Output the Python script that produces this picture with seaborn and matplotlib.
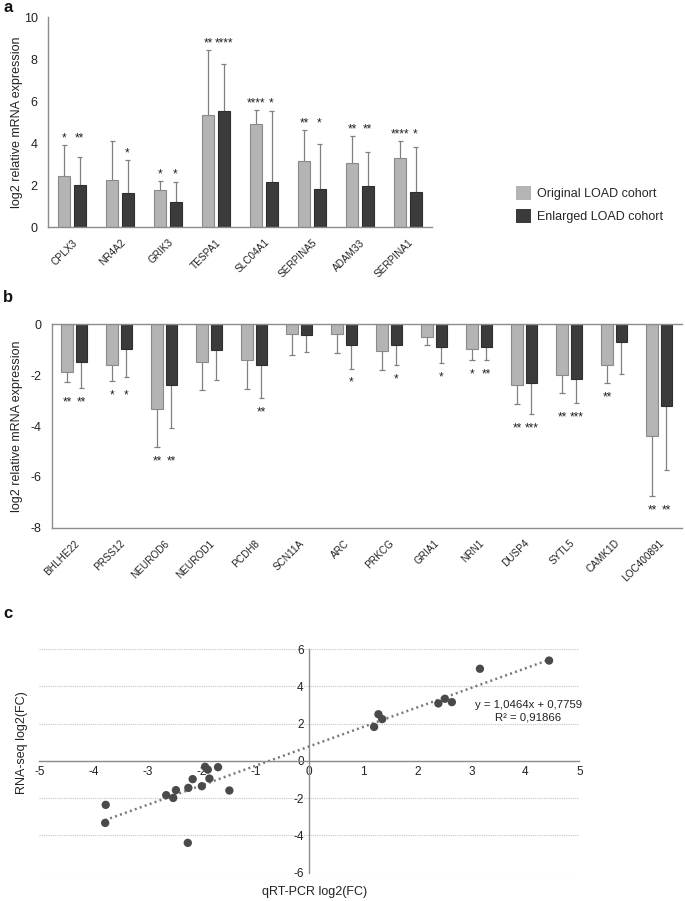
import numpy as np
import pandas as pd
import matplotlib
matplotlib.use("Agg")
import matplotlib.pyplot as plt
import seaborn as sns
from matplotlib.patches import Patch

sns.set_theme(style="white")
plt.rcParams["font.family"] = ["Liberation Sans", "DejaVu Sans"]
plt.rcParams["axes.unicode_minus"] = False

# ---------------- data ----------------
COHORTS = ["Original LOAD cohort", "Enlarged LOAD cohort"]

up_genes = ["CPLX3", "NR4A2", "GRIK3", "TESPA1", "SLC04A1", "SERPINA5", "ADAM33", "SERPINA1"]
up_orig = [2.45, 2.22, 1.78, 5.35, 4.90, 3.12, 3.03, 3.30]
up_orig_errtop = [3.90, 4.10, 2.20, 8.45, 5.58, 4.60, 4.33, 4.11]
up_enl = [2.00, 1.63, 1.17, 5.52, 2.15, 1.80, 1.94, 1.65]
up_enl_errtop = [3.33, 3.18, 2.12, 7.77, 5.53, 3.95, 3.56, 3.79]
up_orig_sig = ["*", "", "*", "**", "****", "**", "**", "****"]
up_enl_sig = ["**", "*", "*", "****", "*", "*", "**", "*"]

down_genes = ["BHLHE22", "PRSS12", "NEUROD6", "NEUROD1", "PCDH8", "SCN11A", "ARC",
              "PRKCG", "GRIA1", "NRN1", "DUSP4", "SYTL5", "CAMK1D", "LOC400891"]
down_orig = [-1.86, -1.61, -3.34, -1.48, -1.40, -0.39, -0.37, -1.04, -0.51, -0.98, -2.39, -2.01, -1.61, -4.39]
down_orig_errbot = [-2.28, -2.23, -4.84, -2.58, -2.53, -1.21, -1.14, -1.81, -0.83, -1.40, -3.15, -2.70, -2.32, -6.75]
down_enl = [-1.48, -0.98, -2.39, -1.01, -1.60, -0.43, -0.83, -0.80, -0.88, -0.89, -2.31, -2.15, -0.71, -3.20]
down_enl_errbot = [-2.49, -2.09, -4.07, -2.19, -2.90, -1.08, -1.74, -1.59, -1.53, -1.42, -3.53, -3.10, -1.94, -5.74]
down_orig_sig = ["**", "*", "**", "", "", "", "", "", "", "*", "**", "**", "**", "**"]
down_enl_sig = ["**", "*", "**", "", "**", "", "*", "*", "*", "**", "***", "***", "", "**"]

qpcr_fc = [-3.77, -3.78, -2.65, -2.52, -2.47, -2.24, -2.25, -2.16, -1.99, -1.93, -1.88,
           -1.85, -1.69, -1.48, 1.20, 1.28, 1.35, 2.39, 2.51, 2.64, 3.16, 4.44]
rnaseq_fc = [-2.36, -3.33, -1.84, -1.99, -1.57, -1.45, -4.40, -0.98, -1.36, -0.32, -0.47,
             -0.95, -0.34, -1.59, 1.82, 2.50, 2.24, 3.08, 3.33, 3.15, 4.94, 5.38]
fit_slope = 1.0464
fit_intercept = 0.7759
fit_r2 = 0.91866

# ---------------- style ----------------
LIGHT = "#b4b4b4"
DARK = "#3b3b3b"
AXC = "#8c8c8c"
ERRC = "#808080"
TXT = "#222222"

fig = plt.figure(figsize=(6.85, 9.01), dpi=100)


def style_axis(ax):
    for s in ax.spines.values():
        s.set_color(AXC)
        s.set_linewidth(1.0)
    ax.tick_params(axis="both", colors=AXC, labelcolor=TXT, length=4, width=1.0, direction="out")


def draw_bars(ax, genes, orig, enl, orig_err, enl_err, orig_sig, enl_sig, up, cap_hw):
    n = len(genes)
    df = pd.DataFrame({
        "gene": genes * 2,
        "value": orig + enl,
        "cohort": [COHORTS[0]] * n + [COHORTS[1]] * n,
    })
    sns.barplot(data=df, x="gene", y="value", hue="cohort", order=genes, hue_order=COHORTS,
                palette=[LIGHT, DARK], width=0.63, gap=0.2, errorbar=None, legend=False,
                saturation=1, ax=ax)
    bars = list(ax.patches)
    groups = [bars[:n], bars[n:2 * n]]
    edgecols = ["#8a8a8a", "#2e2e2e"]
    centers = []
    for k, grp in enumerate(groups):
        for p in grp:
            p.set_edgecolor(edgecols[k])
            p.set_linewidth(0.8)
        centers.append([p.get_x() + p.get_width() / 2 for p in grp])
    vals = [orig, enl]
    errs = [orig_err, enl_err]
    sigs = [orig_sig, enl_sig]
    for k in range(2):
        xc = np.array(centers[k])
        ax.vlines(xc, vals[k], errs[k], color=ERRC, lw=0.9, zorder=0.9)
        ax.hlines(errs[k], xc - cap_hw, xc + cap_hw, color=ERRC, lw=0.9, zorder=0.9)
    for i in range(n):
        starred = [k for k in range(2) if sigs[k][i]]
        if not starred:
            continue
        if up:
            ref = max(errs[k][i] for k in starred)
            off = 2.5
        else:
            ref = min(errs[k][i] for k in starred)
            off = -12.5
        for k in starred:
            ax.annotate(sigs[k][i], xy=(centers[k][i], ref), xytext=(0, off),
                        textcoords="offset points", ha="center", va="baseline",
                        fontsize=8.5, color=TXT)
    ax.set_xlabel("")
    ax.set_xlim(-0.5, n - 0.5)
    ax.set_xticks(range(n))
    ax.set_xticklabels(genes, rotation=45, ha="right", rotation_mode="anchor", fontsize=7.2)


# ---------------- panel a ----------------
ax_a = fig.add_axes([48 / 685, 1 - 227 / 901, 384 / 685, 210 / 901])
draw_bars(ax_a, up_genes, up_orig, up_enl, up_orig_errtop, up_enl_errtop,
          up_orig_sig, up_enl_sig, True, 0.055)
ax_a.set_ylim(0, 10)
ax_a.set_yticks(range(0, 11, 2))
style_axis(ax_a)
ax_a.spines["top"].set_visible(False)
ax_a.spines["right"].set_visible(False)
ax_a.tick_params(axis="y", labelsize=9)
ax_a.set_ylabel("log2 relative mRNA expression", fontsize=9, color=TXT)
ax_a.yaxis.set_label_coords(-0.066, 0.5)

handles = [Patch(facecolor=LIGHT, edgecolor="none"), Patch(facecolor=DARK, edgecolor="none")]
ax_a.legend(handles, COHORTS, loc="upper left", bbox_to_anchor=(516 / 685, 1 - 186 / 901),
            bbox_transform=fig.transFigure, frameon=False, fontsize=9,
            handlelength=1.2, handleheight=1.3, handletextpad=0.45, labelspacing=0.75,
            borderaxespad=0, borderpad=0)

# ---------------- panel b ----------------
ax_b = fig.add_axes([51.7 / 685, 1 - 527.7 / 901, 630 / 685, 203.4 / 901])
draw_bars(ax_b, down_genes, down_orig, down_enl, down_orig_errbot, down_enl_errbot,
          down_orig_sig, down_enl_sig, False, 0.06)
ax_b.set_ylim(-8, 0)
ax_b.set_yticks(range(-8, 1, 2))
style_axis(ax_b)
ax_b.spines["right"].set_visible(False)
ax_b.tick_params(axis="y", labelsize=9)
ax_b.set_ylabel("log2 relative mRNA expression", fontsize=9, color=TXT)
ax_b.yaxis.set_label_coords(-0.046, 0.5)

# ---------------- panel c ----------------
ax_c = fig.add_axes([39.3 / 685, 1 - 872.7 / 901, 540 / 685, 223.7 / 901])
xs = np.array([min(qpcr_fc), max(qpcr_fc)])
ax_c.plot(xs, fit_slope * xs + fit_intercept, color="#7a7a7a", lw=1.8,
          ls=(0, (0.8, 1.3)), zorder=2)
sns.scatterplot(x=qpcr_fc, y=rnaseq_fc, ax=ax_c, s=36, color="#4a4a4a",
                edgecolor="none", zorder=3)
ax_c.set_xlim(-5, 5)
ax_c.set_ylim(-6, 6)
ax_c.set_xticks(range(-5, 6))
ax_c.set_yticks(range(-6, 7, 2))
style_axis(ax_c)
ax_c.spines["left"].set_position(("data", 0))
ax_c.spines["bottom"].set_position(("data", 0))
ax_c.spines["top"].set_visible(False)
ax_c.spines["right"].set_visible(False)
ax_c.tick_params(axis="both", labelsize=8.5, length=3, pad=1.0)
ax_c.yaxis.grid(True, ls=(0, (1, 1)), color="#c4c4c4", lw=0.8)
ax_c.xaxis.grid(False)
ax_c.set_axisbelow(True)
ax_c.text(4.06, 3.0, f"y = {fit_slope:.4f}x + {fit_intercept:.4f}".replace(".", ","),
          ha="center", va="center", fontsize=8.2, color=TXT)
ax_c.text(4.06, 2.35, f"R² = {fit_r2:.5f}".replace(".", ","),
          ha="center", va="center", fontsize=8.2, color=TXT)
fig.text(315 / 685, 1 - 892 / 901, "qRT-PCR log2(FC)", ha="center", va="center",
         fontsize=9, color=TXT)
fig.text(22 / 685, 1 - 743 / 901, "RNA-seq log2(FC)", ha="center", va="center",
         rotation=90, fontsize=9, color=TXT)

# panel letters
for letter, y in [("a", 8), ("b", 297), ("c", 613)]:
    fig.text(8 / 685, 1 - y / 901, letter, ha="center", va="center",
             fontsize=12, fontweight="bold", color="#111111")

fig.savefig("out.png", dpi=100)
